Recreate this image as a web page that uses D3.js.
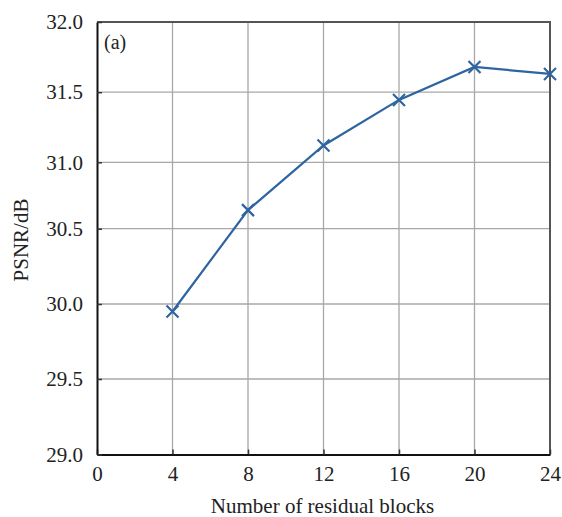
<!DOCTYPE html>
<html>
<head>
<meta charset="utf-8">
<script src="https://cdn.jsdelivr.net/npm/d3@7"></script>
<style>
  body { margin: 0; background: #fff; }
  text { font-family: "Liberation Serif", "Times New Roman", "DejaVu Serif", serif; fill: #222; }
</style>
</head>
<body>
<svg id="chart" width="562" height="517"></svg>
<script>
// data
const blocks = [4, 8, 12, 16, 20, 24];
const psnr = [29.95, 30.64, 31.12, 31.445, 31.68, 31.63];
const xTicks = [0, 4, 8, 12, 16, 20, 24];
const yTicks = [29.0, 29.5, 30.0, 30.5, 31.0, 31.5, 32.0];

const serif = '"Liberation Serif", "Times New Roman", "DejaVu Serif", serif';
const plotLeft = 97, plotRight = 550, plotTop = 22, plotBottom = 454.5;

const svg = d3.select('#chart');

const x = d3.scaleLinear().domain([0, 24]).range([plotLeft, plotRight]);
// the source image is slightly unevenly stretched vertically, so the
// y scale follows the measured gridline positions
const y = d3.scaleLinear()
  .domain(yTicks)
  .range([plotBottom, 379, 304, 228.7, 162.3, 92.2, plotTop]);

// grid
const grid = svg.append('g');
grid.selectAll('.gx')
  .data(xTicks.slice(1, -1))
  .enter().append('line')
  .attr('x1', d => x(d)).attr('x2', d => x(d))
  .attr('y1', plotTop).attr('y2', plotBottom)
  .style('stroke', '#a8a8a8')
  .style('stroke-width', 1.3);
grid.selectAll('.gy')
  .data(yTicks.slice(1, -1))
  .enter().append('line')
  .attr('x1', plotLeft).attr('x2', plotRight)
  .attr('y1', d => y(d)).attr('y2', d => y(d))
  .style('stroke', '#a8a8a8')
  .style('stroke-width', 1.3);

// frame top / right
svg.append('path')
  .attr('d', `M${plotLeft},${plotTop}H${plotRight}V${plotBottom}`)
  .style('fill', 'none')
  .style('stroke', '#555')
  .style('stroke-width', 2);

// axes
const xAxis = svg.append('g')
  .attr('transform', `translate(0,${plotBottom})`)
  .call(d3.axisBottom(x).tickValues(xTicks).tickSizeInner(-5).tickSizeOuter(0).tickPadding(12));
const yAxis = svg.append('g')
  .attr('transform', `translate(${plotLeft},0)`)
  .call(d3.axisLeft(y).tickValues(yTicks).tickFormat(d3.format('.1f')).tickSizeInner(-5).tickSizeOuter(0).tickPadding(14));

[xAxis, yAxis].forEach(a => {
  a.attr('font-family', serif).attr('font-size', 21);
  a.select('.domain').style('stroke', '#111').style('stroke-width', 2);
  a.selectAll('.tick line').style('stroke', '#333').style('stroke-width', 1.5);
  a.selectAll('.tick text')
    .style('font-family', serif)
    .style('font-size', '21px')
    .style('fill', '#222');
});

// line
const pts = blocks.map((b, i) => ({ x: b, y: psnr[i] }));
svg.append('path')
  .datum(pts)
  .attr('d', d3.line().x(d => x(d.x)).y(d => y(d.y)))
  .style('fill', 'none')
  .style('stroke', '#2e65a0')
  .style('stroke-width', 2.2);

// cross markers
const m = 6;
svg.append('g').selectAll('path')
  .data(pts)
  .enter().append('path')
  .attr('d', d => {
    const cx = x(d.x), cy = y(d.y);
    return `M${cx - m},${cy - m}L${cx + m},${cy + m}M${cx - m},${cy + m}L${cx + m},${cy - m}`;
  })
  .style('stroke', '#2e65a0')
  .style('stroke-width', 2.2);

// labels
svg.append('text')
  .attr('x', 104).attr('y', 49)
  .style('font-family', serif)
  .style('font-size', '20px')
  .text('(a)');

svg.append('text')
  .attr('x', (plotLeft + plotRight) / 2 - 1).attr('y', 513)
  .attr('text-anchor', 'middle')
  .style('font-family', serif)
  .style('font-size', '21px')
  .text('Number of residual blocks');

svg.append('text')
  .attr('transform', 'translate(28,240) rotate(-90)')
  .attr('text-anchor', 'middle')
  .style('font-family', serif)
  .style('font-size', '21px')
  .text('PSNR/dB');
</script>
</body>
</html>
